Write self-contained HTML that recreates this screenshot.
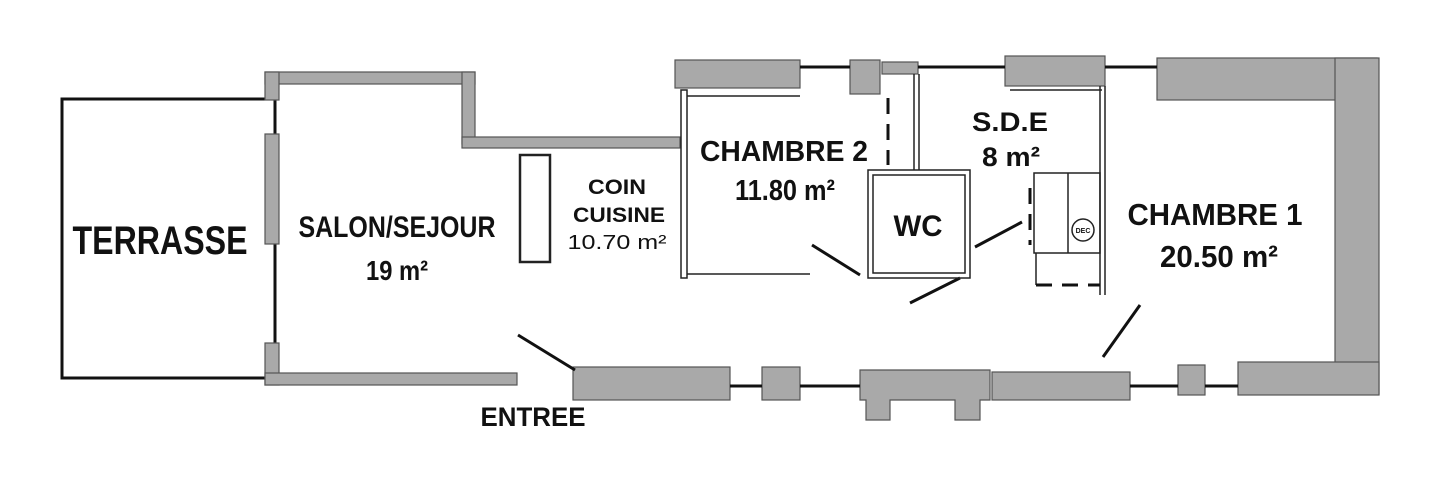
<!DOCTYPE html>
<html><head><meta charset="utf-8"><style>
html,body{margin:0;padding:0;background:#fff;}
svg{display:block;}
text{font-family:"Liberation Sans",sans-serif;font-weight:bold;fill:#111;text-anchor:middle;}
</style></head><body>
<svg width="1445" height="492" viewBox="0 0 1445 492" xmlns="http://www.w3.org/2000/svg">
<g fill="none" stroke="#111" stroke-width="3">
<rect x="62" y="99" width="213" height="279"/>
</g>
<g fill="#a9a9a9" stroke="#555" stroke-width="1.2">
<rect x="265" y="72" width="210" height="12"/>
<rect x="462" y="72" width="13" height="72"/>
<rect x="462" y="137" width="218" height="11"/>
<rect x="265" y="72" width="14" height="28"/>
<rect x="265" y="134" width="14" height="110"/>
<rect x="265" y="343" width="14" height="42"/>
<rect x="265" y="373" width="252" height="12"/>
<rect x="675" y="60" width="125" height="28"/>
<rect x="850" y="60" width="30" height="34"/>
<rect x="882" y="62" width="36" height="12"/>
<rect x="1005" y="56" width="100" height="30"/>
<rect x="1157" y="58" width="220" height="42"/>
<rect x="1335" y="58" width="44" height="336"/>
<rect x="1238" y="362" width="141" height="33"/>
<rect x="573" y="367" width="157" height="33"/>
<rect x="762" y="367" width="38" height="33"/>
<path d="M860 370 H990 V400 H980 V420 H955 V400 H890 V420 H866 V400 H860 Z"/>
<rect x="992" y="372" width="138" height="28"/>
<rect x="1178" y="365" width="27" height="30"/>
</g>
<g fill="none" stroke="#111" stroke-width="3">
<line x1="800" y1="67" x2="850" y2="67"/>
<line x1="918" y1="67" x2="1005" y2="67"/>
<line x1="1105" y1="67" x2="1157" y2="67"/>
<line x1="730" y1="386" x2="762" y2="386"/>
<line x1="800" y1="386" x2="860" y2="386"/>
<line x1="1130" y1="386" x2="1178" y2="386"/>
<line x1="1205" y1="386" x2="1238" y2="386"/>
<line x1="518" y1="335" x2="575" y2="370"/>
<line x1="812" y1="245" x2="860" y2="275"/>
<line x1="910" y1="303" x2="960" y2="278"/>
<line x1="975" y1="247" x2="1022" y2="222"/>
<line x1="1103" y1="357" x2="1140" y2="305"/>
</g>
<g fill="none" stroke="#222" stroke-width="1.5">
<rect x="520" y="155" width="30" height="107" stroke-width="2.5"/>
<rect x="681" y="90" width="6" height="188"/>
<line x1="687" y1="274" x2="810" y2="274"/>
<line x1="687" y1="96" x2="800" y2="96"/>
<rect x="868" y="170" width="102" height="108"/>
<rect x="873" y="175" width="92" height="98"/>
<line x1="914" y1="74" x2="914" y2="170"/>
<line x1="919" y1="74" x2="919" y2="170"/>
<line x1="1010" y1="90" x2="1102" y2="90"/>
<line x1="1100" y1="86" x2="1100" y2="295"/>
<line x1="1105" y1="86" x2="1105" y2="295"/>
<rect x="1034" y="173" width="66" height="80"/>
<line x1="1068" y1="173" x2="1068" y2="253"/>
<circle cx="1083" cy="230" r="11"/>
<line x1="1036" y1="253" x2="1036" y2="285"/>
</g>
<g stroke="#111" stroke-width="3" stroke-dasharray="16,10" fill="none">
<line x1="888" y1="98" x2="888" y2="165"/>
<line x1="1030" y1="188" x2="1030" y2="245"/>
<line x1="1036" y1="285" x2="1100" y2="285"/>
</g>
<text x="1083" y="233" font-size="7" font-weight="normal">DEC</text>
<text x="160" y="254" font-size="40" textLength="175" lengthAdjust="spacingAndGlyphs">TERRASSE</text>
<text x="397" y="237" font-size="30" textLength="197" lengthAdjust="spacingAndGlyphs">SALON/SEJOUR</text>
<text x="397" y="280" font-size="28" textLength="62" lengthAdjust="spacingAndGlyphs">19 m²</text>
<text x="617" y="194" font-size="21" textLength="58" lengthAdjust="spacingAndGlyphs">COIN</text>
<text x="619" y="222" font-size="21" textLength="92" lengthAdjust="spacingAndGlyphs">CUISINE</text>
<text x="617" y="249" font-size="20" style="font-weight:normal" textLength="99" lengthAdjust="spacingAndGlyphs">10.70 m²</text>
<text x="784" y="161" font-size="29" textLength="168" lengthAdjust="spacingAndGlyphs">CHAMBRE 2</text>
<text x="785" y="200" font-size="29" textLength="100" lengthAdjust="spacingAndGlyphs">11.80 m²</text>
<text x="918" y="236" font-size="30" textLength="49" lengthAdjust="spacingAndGlyphs">WC</text>
<text x="1010" y="131" font-size="27" textLength="76" lengthAdjust="spacingAndGlyphs">S.D.E</text>
<text x="1011" y="166" font-size="27" textLength="58" lengthAdjust="spacingAndGlyphs">8 m²</text>
<text x="1215" y="225" font-size="31" textLength="175" lengthAdjust="spacingAndGlyphs">CHAMBRE 1</text>
<text x="1219" y="267" font-size="31" textLength="118" lengthAdjust="spacingAndGlyphs">20.50 m²</text>
<text x="533" y="426" font-size="27" textLength="105" lengthAdjust="spacingAndGlyphs">ENTREE</text>
</svg>
</body></html>
